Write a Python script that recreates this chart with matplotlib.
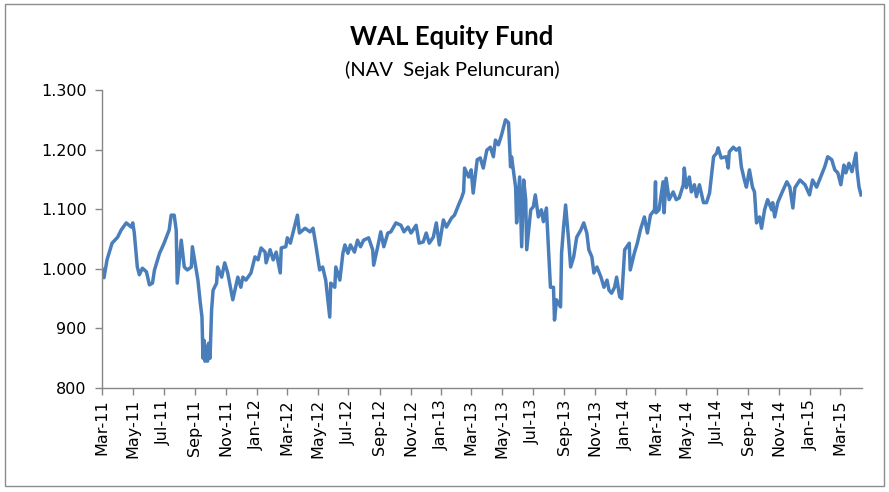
import matplotlib
matplotlib.use("Agg")
import matplotlib.pyplot as plt
import matplotlib.dates as mdates
from matplotlib.ticker import FuncFormatter
from matplotlib.patches import Rectangle
import pandas as pd

dates = [
    "2011-03-01", "2011-03-05", "2011-03-11", "2011-03-21", "2011-04-01", "2011-04-08", "2011-04-18",
    "2011-04-28", "2011-05-01", "2011-05-04", "2011-05-10", "2011-05-14", "2011-05-20", "2011-05-28",
    "2011-06-03", "2011-06-09", "2011-06-13", "2011-06-23", "2011-07-02", "2011-07-12", "2011-07-16",
    "2011-07-22", "2011-07-26", "2011-07-28", "2011-08-05", "2011-08-11", "2011-08-17", "2011-08-25",
    "2011-08-27", "2011-09-07", "2011-09-11", "2011-09-15", "2011-09-17", "2011-09-19", "2011-09-21",
    "2011-09-23", "2011-09-26", "2011-09-28", "2011-10-01", "2011-10-04", "2011-10-07", "2011-10-14",
    "2011-10-16", "2011-10-24", "2011-10-30", "2011-11-05", "2011-11-15", "2011-11-25", "2011-12-01",
    "2011-12-05", "2011-12-11", "2011-12-21", "2011-12-29", "2012-01-04", "2012-01-10", "2012-01-18",
    "2012-01-20", "2012-01-28", "2012-02-03", "2012-02-09", "2012-02-17", "2012-02-19", "2012-02-28",
    "2012-03-02", "2012-03-08", "2012-03-16", "2012-03-22", "2012-03-26", "2012-04-06", "2012-04-16",
    "2012-04-22", "2012-04-28", "2012-05-05", "2012-05-11", "2012-05-17", "2012-05-25", "2012-05-27",
    "2012-06-04", "2012-06-06", "2012-06-14", "2012-06-20", "2012-06-24", "2012-06-30", "2012-07-05",
    "2012-07-13", "2012-07-19", "2012-07-25", "2012-07-31", "2012-08-10", "2012-08-18", "2012-08-20",
    "2012-08-28", "2012-09-03", "2012-09-09", "2012-09-17", "2012-09-23", "2012-10-03", "2012-10-13",
    "2012-10-19", "2012-10-27", "2012-11-02", "2012-11-12", "2012-11-18", "2012-11-26", "2012-12-02",
    "2012-12-08", "2012-12-16", "2012-12-22", "2012-12-28", "2013-01-05", "2013-01-11", "2013-01-21",
    "2013-01-27", "2013-02-04", "2013-02-10", "2013-02-14", "2013-02-16", "2013-02-24", "2013-03-01",
    "2013-03-05", "2013-03-13", "2013-03-19", "2013-03-25", "2013-04-01", "2013-04-08", "2013-04-14",
    "2013-04-18", "2013-04-24", "2013-04-30", "2013-05-08", "2013-05-14", "2013-05-18", "2013-05-20",
    "2013-05-28", "2013-05-30", "2013-06-05", "2013-06-09", "2013-06-13", "2013-06-17", "2013-06-19",
    "2013-06-27", "2013-07-02", "2013-07-06", "2013-07-12", "2013-07-18", "2013-07-22", "2013-07-28",
    "2013-08-05", "2013-08-11", "2013-08-13", "2013-08-17", "2013-08-25", "2013-08-27", "2013-08-31",
    "2013-09-04", "2013-09-10", "2013-09-14", "2013-09-20", "2013-09-26", "2013-10-04", "2013-10-10",
    "2013-10-16", "2013-10-20", "2013-10-26", "2013-10-30", "2013-11-05", "2013-11-13", "2013-11-19",
    "2013-11-25", "2013-11-29", "2013-12-04", "2013-12-10", "2013-12-14", "2013-12-20", "2013-12-24",
    "2013-12-30", "2014-01-08", "2014-01-10", "2014-01-18", "2014-01-24", "2014-01-30", "2014-02-07",
    "2014-02-13", "2014-02-19", "2014-02-27", "2014-03-01", "2014-03-02", "2014-03-08", "2014-03-16",
    "2014-03-18", "2014-03-22", "2014-03-28", "2014-04-05", "2014-04-11", "2014-04-17", "2014-04-25",
    "2014-04-27", "2014-05-01", "2014-05-07", "2014-05-11", "2014-05-17", "2014-05-21", "2014-05-27",
    "2014-06-04", "2014-06-10", "2014-06-16", "2014-06-24", "2014-06-30", "2014-07-03", "2014-07-09",
    "2014-07-19", "2014-07-23", "2014-07-25", "2014-08-02", "2014-08-08", "2014-08-14", "2014-08-18",
    "2014-08-24", "2014-08-28", "2014-09-03", "2014-09-09", "2014-09-13", "2014-09-17", "2014-09-23",
    "2014-09-27", "2014-10-03", "2014-10-09", "2014-10-17", "2014-10-19", "2014-10-23", "2014-10-29",
    "2014-11-06", "2014-11-16", "2014-11-22", "2014-11-28", "2014-12-02", "2014-12-12", "2014-12-22",
    "2014-12-31", "2015-01-06", "2015-01-14", "2015-01-24", "2015-01-30", "2015-02-05", "2015-02-13",
    "2015-02-19", "2015-02-25", "2015-03-03", "2015-03-09", "2015-03-13", "2015-03-19", "2015-03-25",
    "2015-04-02", "2015-04-04", "2015-04-08", "2015-04-12",
]

nav = [
    1000, 985, 1015, 1043, 1053, 1065, 1077,
    1070, 1077, 1060, 1003, 990, 1001, 995,
    973, 976, 998, 1026, 1043, 1065, 1090,
    1090, 1065, 976, 1048, 1003, 998, 1003,
    1037, 981, 948, 919, 850, 880, 845,
    870, 845, 875, 850, 930, 964, 976,
    1003, 986, 1010, 993, 948, 986, 969,
    986, 981, 993, 1020, 1015, 1035, 1028,
    1010, 1032, 1015, 1028, 993, 1035, 1037,
    1052, 1043, 1070, 1090, 1060, 1068, 1062,
    1068, 1037, 998, 1003, 981, 919, 976,
    969, 1003, 981, 1026, 1040, 1026, 1040,
    1028, 1048, 1037, 1048, 1052, 1032, 1006,
    1037, 1062, 1037, 1060, 1062, 1077, 1073,
    1062, 1070, 1060, 1073, 1043, 1045, 1060,
    1043, 1053, 1077, 1040, 1082, 1070, 1085,
    1090, 1107, 1119, 1129, 1169, 1154, 1166,
    1127, 1183, 1186, 1169, 1199, 1204, 1188,
    1216, 1208, 1224, 1250, 1245, 1171, 1188,
    1137, 1077, 1154, 1037, 1149, 1116, 1032,
    1099, 1104, 1124, 1087, 1099, 1079, 1102,
    969, 969, 914, 948, 936, 1026, 1070,
    1107, 1048, 1003, 1020, 1053, 1065, 1077,
    1060, 1032, 1020, 993, 1003, 986, 969,
    981, 964, 959, 969, 986, 953, 950,
    1032, 1043, 998, 1026, 1043, 1065, 1087,
    1060, 1090, 1099, 1146, 1094, 1099, 1146,
    1094, 1152, 1116, 1129, 1116, 1119, 1141,
    1169, 1136, 1154, 1129, 1141, 1121, 1141,
    1111, 1111, 1127, 1188, 1194, 1203, 1186,
    1188, 1169, 1196, 1204, 1199, 1203, 1171,
    1149, 1137, 1166, 1137, 1129, 1077, 1087,
    1068, 1099, 1116, 1099, 1111, 1087, 1111,
    1127, 1146, 1137, 1102, 1136, 1149, 1141,
    1124, 1149, 1137, 1158, 1171, 1188, 1183,
    1166, 1161, 1141, 1174, 1161, 1177, 1163,
    1194, 1166, 1137, 1124,
]

title = "WAL Equity Fund"
subtitle = "(NAV  Sejak Peluncuran)"
y_ticks = [800, 900, 1000, 1100, 1200, 1300]

x = pd.to_datetime(dates)

fig = plt.figure(figsize=(8.89, 4.92), dpi=100)
ax = fig.add_axes([0.1147, 0.2114, 0.855, 0.6057])

ax.plot(x, nav, color="#4A7EBB", linewidth=2.5, solid_joinstyle="round")

ax.set_xlim(pd.Timestamp("2011-03-01"), pd.Timestamp("2015-04-14"))
ax.set_ylim(800, 1300)
ax.set_yticks(y_ticks)
ax.yaxis.set_major_formatter(FuncFormatter(lambda v, p: f"{int(v):,}".replace(",", ".")))

ax.xaxis.set_major_locator(mdates.MonthLocator(bymonth=[1, 3, 5, 7, 9, 11]))
ax.xaxis.set_major_formatter(mdates.DateFormatter("%b-%y"))
for lab in ax.get_xticklabels():
    lab.set_rotation(90)

for s in ["top", "right"]:
    ax.spines[s].set_visible(False)
for s in ["left", "bottom"]:
    ax.spines[s].set_color("#868686")
    ax.spines[s].set_linewidth(1.0)
ax.tick_params(axis="both", colors="#868686", length=5, width=1.0, direction="out")
ax.tick_params(axis="x", labelcolor="black", labelsize=11.5, pad=3)
ax.tick_params(axis="y", labelcolor="black", labelsize=11.5, pad=6)

fig.text(0.5085, 0.925, title, ha="center", va="center", fontsize=18.5,
         fontweight="bold", family="Lato")
fig.text(0.5085, 0.857, subtitle, ha="center", va="center", fontsize=14.5, family="Lato")

fig.patches.append(Rectangle((5 / 889, 6 / 492), 879 / 889, 482 / 492, transform=fig.transFigure,
                             fill=False, edgecolor="#8c8c8c", linewidth=1.0))

fig.savefig("out.png", dpi=100)
